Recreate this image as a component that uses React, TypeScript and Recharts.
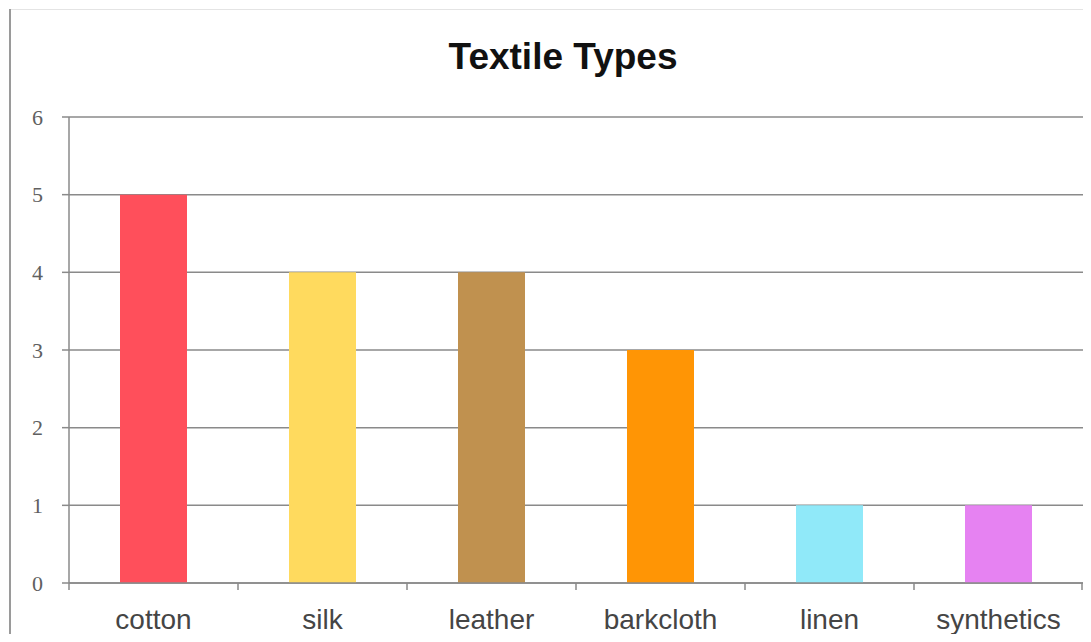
import { BarChart, Bar, Cell, XAxis, YAxis, CartesianGrid } from "recharts";

const categories = ["cotton", "silk", "leather", "barkcloth", "linen", "synthetics"];
const counts = [5, 4, 4, 3, 1, 1];
const colors = ["#FF4F5B", "#FFDA5E", "#C0914F", "#FF9505", "#90E9F9", "#E682F2"];
const yTicks = [0, 1, 2, 3, 4, 5, 6];

const data = categories.map((name, i) => ({ name, value: counts[i] }));

const BAND = (1083 - 69) / categories.length;

function CategoryTick(props: any) {
  const { x, y, payload, index } = props;
  const last =
    index === categories.length - 1 ||
    payload?.index === categories.length - 1 ||
    String(payload?.value) === categories[categories.length - 1];
  const top = y - 8;
  return (
    <g>
      <line x1={x - BAND / 2} x2={x - BAND / 2} y1={top} y2={top + 7} stroke="#8a8a8a" strokeWidth={1.5} />
      {last ? (
        <line x1={x + BAND / 2 - 1} x2={x + BAND / 2 - 1} y1={top} y2={top + 7} stroke="#8a8a8a" strokeWidth={1.5} />
      ) : null}
      <text
        x={x}
        y={top + 46}
        textAnchor="middle"
        fontFamily="Liberation Sans, Arial, sans-serif"
        fontSize={28}
        fill="#454545"
      >
        {payload.value}
      </text>
    </g>
  );
}

export default function App() {
  return (
    <div style={{ position: "relative", width: 1091, height: 642, margin: -8, background: "#fff" }}>
      <div style={{ position: "absolute", left: 10, top: 9, width: 1081, height: 1, background: "#e4e4e4" }} />
      <div style={{ position: "absolute", left: 9, top: 9, width: 2, height: 633, background: "#9a9a9a" }} />
      <div style={{ position: "absolute", left: 0, top: 0 }}>
        <BarChart
          width={1091}
          height={642}
          data={data}
          margin={{ top: 117, right: 8, bottom: 29, left: 19 }}
          barSize={67}
          style={{ overflow: "visible" }}
        >
          <text
            x={563}
            y={69}
            textAnchor="middle"
            fontFamily="Liberation Sans, Arial, sans-serif"
            fontWeight="bold"
            fontSize={37}
            fill="#111"
          >
            Textile Types
          </text>
          <CartesianGrid vertical={false} stroke="#8a8a8a" strokeWidth={1.5} />
          <XAxis
            dataKey="name"
            height={30}
            axisLine={{ stroke: "#8a8a8a", strokeWidth: 1.5 }}
            tickLine={false}
            tick={<CategoryTick />}
            interval={0}
          />
          <YAxis
            width={50}
            domain={[0, 6]}
            ticks={yTicks}
            interval={0}
            axisLine={{ stroke: "#8a8a8a", strokeWidth: 1.5 }}
            tickLine={{ stroke: "#8a8a8a", strokeWidth: 1.5 }}
            tickSize={7}
            tickMargin={19}
            tick={{ fontFamily: "Liberation Serif, DejaVu Serif, serif", fontSize: 22, fill: "#606060" }}
          />
          <Bar dataKey="value" isAnimationActive={false}>
            {data.map((d, i) => (
              <Cell key={d.name} fill={colors[i]} />
            ))}
          </Bar>
        </BarChart>
      </div>
    </div>
  );
}
